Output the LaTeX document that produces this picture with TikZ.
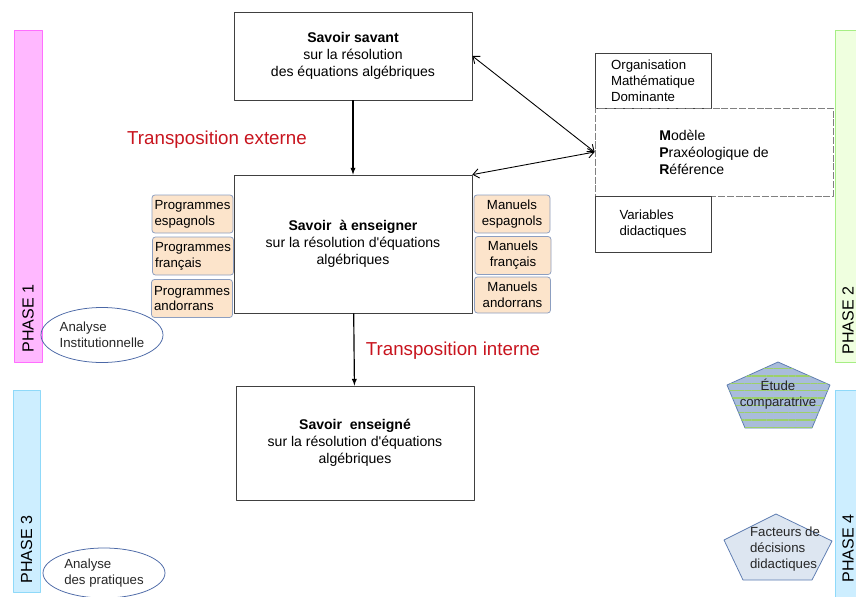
\documentclass[tikz,border=0pt]{standalone}
\usepackage{fontspec}
\setmainfont{Liberation Sans}
\usetikzlibrary{shapes.geometric,patterns.meta,arrows.meta}
\definecolor{boxline}{HTML}{404040}
\definecolor{peach}{HTML}{FCE4CB}
\definecolor{peachline}{HTML}{8C9EC0}
\definecolor{transred}{HTML}{C8141E}
\definecolor{ovalline}{HTML}{4B68A6}
\definecolor{pinkfill}{HTML}{FFB8FF}
\definecolor{pinkline}{HTML}{FF6EFF}
\definecolor{greenfill}{HTML}{EFFFDF}
\definecolor{greenline}{HTML}{A6EE84}
\definecolor{bluefill}{HTML}{CDEEFF}
\definecolor{blueline}{HTML}{8FD9F9}
\definecolor{pentfill}{HTML}{A9BCDB}
\definecolor{pentstripe}{HTML}{9CD06A}
\definecolor{pentline}{HTML}{5C7BB0}
\definecolor{pentlight}{HTML}{DDE6F1}
\begin{document}
\begin{tikzpicture}[x=.3mm,y=-.3mm,line width=.65pt,>=latex,
 line join=round,font=\fontsize{12}{14.5}\selectfont,
 box/.style={draw=boxline,align=center,inner sep=0pt},
 small/.style={font=\fontsize{11.3}{13.6}\selectfont},
 prog/.style={draw=peachline,fill=peach,rounded corners=2.5pt,align=left,
   minimum width=24.3mm,minimum height=11.4mm,inner sep=0pt,small},
 manu/.style={prog,align=center,minimum width=22.8mm},
 oval/.style={draw=ovalline,ellipse,align=left,inner sep=0pt,
   minimum width=36.6mm,minimum height=16.5mm,text=black!85,small},
 phasebar/.style={minimum width=8.4mm,inner sep=0pt},
 phaselbl/.style={rotate=90,anchor=west,inner sep=0pt,
   font=\fontsize{13.7}{16}\selectfont},
 trans/.style={text=transred,font=\fontsize{16}{19}\selectfont},
 flow/.style={->,line width=1pt},
 link/.style={{Straight Barb[length=5pt,width=8pt]}-{Straight Barb[length=5pt,width=8pt]},line width=.75pt}]
\useasboundingbox (0,0) rectangle (856,596);
\node[phasebar,draw=pinkline,fill=pinkfill,minimum height=99.6mm] (ph1) at (28,196) {};
\node[phaselbl] (ph1lbl) at (28,353) {PHASE 1};
\node[phasebar,draw=blueline,fill=bluefill,minimum height=60.6mm,minimum width=8.1mm] (ph3) at (26.5,491) {};
\node[phaselbl] (ph3lbl) at (26.5,584) {PHASE 3};
\node[phasebar,draw=greenline,fill=greenfill,minimum height=99.6mm] (ph2) at (849,196) {};
\node[phaselbl] (ph2lbl) at (848,355) {PHASE 2};
\node[phasebar,draw=blueline,fill=bluefill,minimum height=63mm] (ph4) at (849,495) {};
\node[phaselbl] (ph4lbl) at (848,583) {PHASE 4};
\node[box,minimum width=71.4mm,minimum height=26.4mm] (savant) at (353,56)
 {\textbf{Savoir savant}\\sur la résolution\\des équations algébriques};
\node[box,minimum width=71.4mm,minimum height=41.4mm] (aens) at (353,244)
 {\textbf{Savoir\ \ à enseigner}\\sur la résolution d\textquotesingle équations\\algébriques};
\node[box,minimum width=71.4mm,minimum height=34.2mm] (ens) at (355,443)
 {\textbf{Savoir\ \ enseigné}\\sur la résolution d\textquotesingle équations\\algébriques};
\node[trans] (text) at (217,140) {Transposition externe};
\node[trans] (tint) at (453,351) {Transposition interne};
\draw[flow] (savant) -- (aens);
\draw[flow] (aens) -- (ens);
\node[prog] (pesp) at (192.5,214) {Programmes\\espagnols};
\node[prog] (pfra) at (193,256) {Programmes\\français};
\node[prog] (pand) at (192,298.5) {Programmes\\andorrans};
\node[manu] (mesp) at (512,214) {Manuels\\espagnols};
\node[manu] (mfra) at (513,255.5) {Manuels\\français};
\node[manu,minimum height=10.8mm] (mand) at (512.5,295) {Manuels\\andorrans};
\node[oval] (ainst) at (102,335) {Analyse\\Institutionnelle};
\node[oval,minimum height=15mm] (aprat) at (104,573) {Analyse\\des pratiques};
\node[box,small,align=left,minimum width=34.8mm,minimum height=16.5mm] (omd) at (653,80.5)
 {Organisation\\Mathématique\\Dominante};
\node[box,draw=gray,dash pattern=on 6pt off 1.5pt,align=left,
 minimum width=71.4mm,minimum height=26.4mm] (mpr) at (714,152)
 {\textbf{M}odèle\\\textbf{P}raxéologique de\\\textbf{R}éférence};
\node[box,small,align=left,minimum width=34.8mm,minimum height=16.8mm] (vars) at (653,224)
 {Variables\\didactiques};
\draw[link] (savant.east) -- (mpr.west);
\draw[link] (aens.north east) -- (mpr.west);
\filldraw[draw=pentline,fill=pentfill,postaction={pattern={Lines[angle=0,distance=2.2mm,line width=.9pt]},pattern color=pentstripe}]
 (778,362) -- (830,385) -- (812,428) -- (745,428) -- (727,385) -- cycle;
\node[small,align=center,text=black!85,inner sep=0pt] (etude) at (778,394) {Étude\\comparatrive};
\filldraw[draw=pentline,fill=pentlight]
 (776,514) -- (832,541) -- (812,580) -- (743,580) -- (724,540) -- cycle;
\node[small,align=left,text=black!85,inner sep=0pt] (fact) at (785,549) {Facteurs de\\décisions\\didactiques};
\end{tikzpicture}
\end{document}
